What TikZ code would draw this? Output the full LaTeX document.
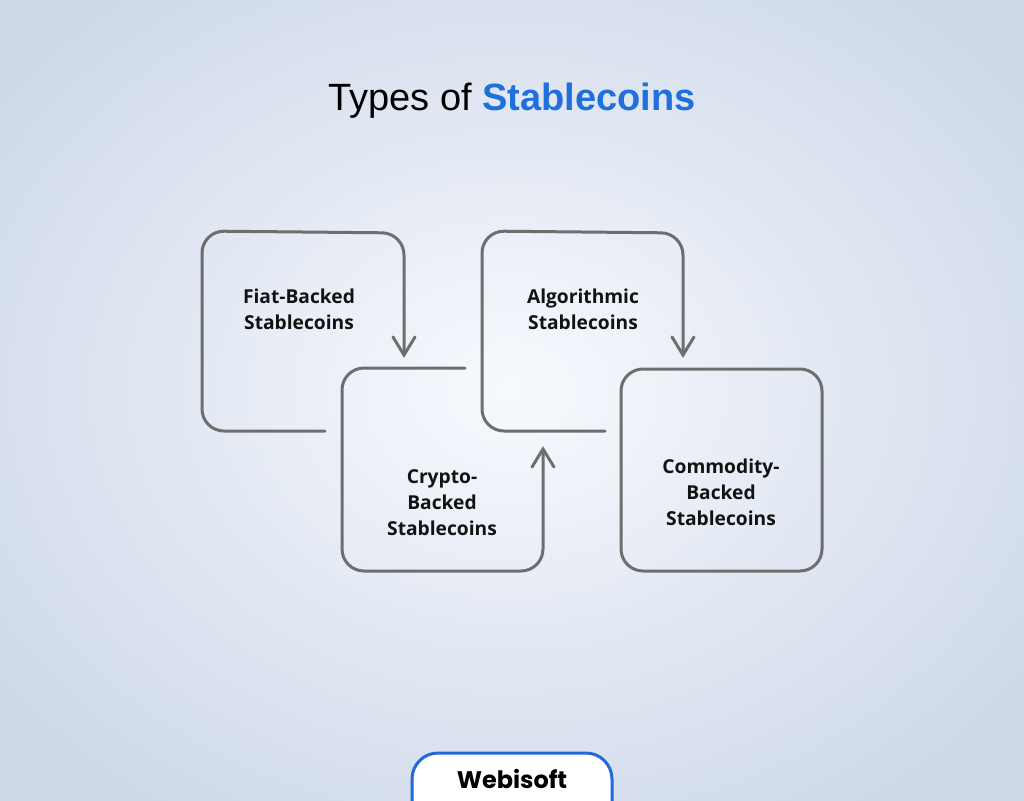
\documentclass[tikz,border=0pt]{standalone}
\usepackage{fontspec}
\setmainfont{Liberation Sans}
\newfontfamily\boxfont{Open Sans}
\newfontfamily\logofont{Poppins}
\usetikzlibrary{calc}
\definecolor{bgin}{HTML}{F7F9FD}
\definecolor{bgout}{HTML}{CFD9EA}
\definecolor{linegray}{HTML}{6E6E6E}
\definecolor{titleblue}{HTML}{1F6FDC}
\definecolor{logoblue}{HTML}{1F6AD6}
\tikzset{
	boxline/.style={line width=1.5pt, color=linegray, rounded corners=11pt, line cap=round},
	tipline/.style={line width=1.5pt, color=linegray, line cap=round, line join=miter},
	boxlabel/.style={align=center, text=black!93, font=\boxfont\bfseries\fontsize{9.6}{13}\selectfont}
}

\begin{document}
\begin{tikzpicture}[x=0.5pt, y=-0.5pt]
			%%%%% START %%%%%
			\useasboundingbox (0, 0) rectangle (1024, 800);
			\clip (0, 0) rectangle (1024, 800);
			\shade[inner color=bgin, outer color=bgout] (-120, -110) rectangle (1140, 890);
			
			\node (title) [anchor=base, font=\fontsize{19}{22}\selectfont] at (512, 110) {Types of \textcolor{titleblue}{\bfseries Stablecoins}};
			
			% fiat-backed
			\draw[boxline] (325, 431) -- (202, 431) -- (202, 231) -- (404, 233) -- (404, 355);
			\draw[tipline] (393, 337) -- (404, 355) -- (415, 337);
			\node (fiat) [boxlabel] at (299, 309) {Fiat-Backed\\Stablecoins};
			
			% crypto-backed
			\draw[boxline] (465, 368) -- (342, 368) -- (342, 571) -- (543, 571) -- (543, 449);
			\draw[tipline] (532, 467) -- (543, 449) -- (554, 467);
			\node (crypto) [boxlabel] at (442, 503) {Crypto-\\Backed\\Stablecoins};
			
			% algorithmic
			\draw[boxline] (605, 431) -- (482, 431) -- (482, 231) -- (683, 233) -- (683, 355);
			\draw[tipline] (672, 337) -- (683, 355) -- (694, 337);
			\node (algo) [boxlabel] at (583, 309) {Algorithmic\\Stablecoins};
			
			% commodity-backed
			\draw[boxline] (621, 369) rectangle (822, 571);
			\node (commodity) [boxlabel] at (721, 492) {Commodity-\\Backed\\Stablecoins};
			
			% logo tab
			\draw[line width=1.5pt, color=logoblue, fill=white, rounded corners=13pt] (412, 753) rectangle (612, 840);
			\node (logo) [anchor=base, font=\logofont\bfseries\fontsize{12}{14}\selectfont] at (512, 788) {Webisoft};
			%%%%% END %%%%%
\end{tikzpicture}
\end{document}
